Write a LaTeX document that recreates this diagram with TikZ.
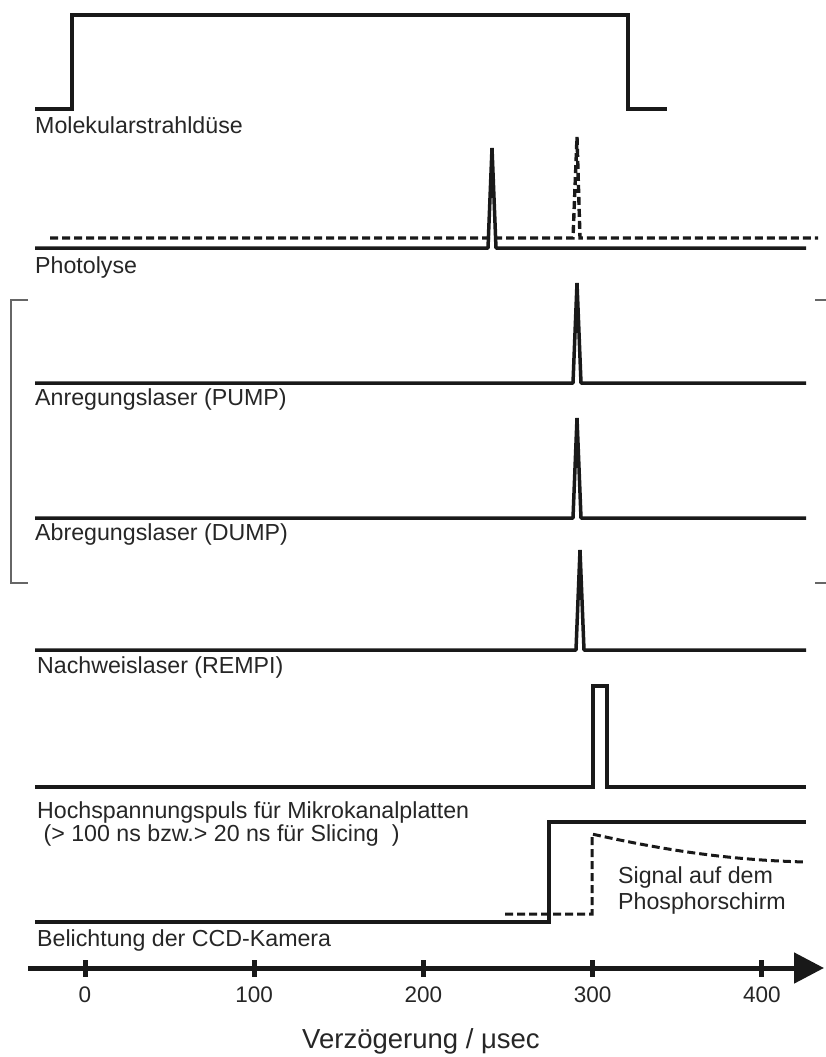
\documentclass[tikz,border=0pt]{standalone}
\usepackage{fontspec}
\setmainfont{Liberation Sans}
\usetikzlibrary{arrows.meta}
\begin{document}
\begin{tikzpicture}[x=1pt,y=-1pt,
  sig/.style={line width=3.5pt,draw=black!90,line join=bevel},
  thick pulse/.style={line width=4.5pt,draw=black!90,line join=miter},
  dsig/.style={line width=3.4pt,draw=black!90,dash pattern=on 8pt off 4pt},
  lbl/.style={anchor=base west,inner sep=0pt,font=\fontsize{23.2}{27}\selectfont,text=black!85},
  tlbl/.style={anchor=base,inner sep=0pt,font=\fontsize{22.5}{26}\selectfont,text=black!85},
  brk/.style={line width=1.6pt,draw=black!60},
  ]
\useasboundingbox (0,0) rectangle (826,1057);
% Molekularstrahl
\draw[thick pulse] (35,109) -- (72,109) -- (72,15) -- (628,15) -- (628,109) -- (667,109);
\node[lbl] (mol) at (35,133) {Molekularstrahldüse};
% Photolyse
\draw[dsig] (50,238) -- (573,238) -- (577,137) -- (580,238) -- (818,238);
\draw[sig] (35,248) -- (488,248) -- (492,148) -- (496,248) -- (806,248);
\node[lbl] (pho) at (35,273) {Photolyse};
% Pump
\draw[sig] (35,383) -- (573,383) -- (577,283) -- (581,383) -- (806,383);
\node[lbl] (pump) at (35,405) {Anregungslaser (PUMP)};
% Dump
\draw[sig] (35,518) -- (573,518) -- (577,418) -- (581,518) -- (806,518);
\node[lbl] (dump) at (35,540) {Abregungslaser (DUMP)};
% REMPI
\draw[sig] (35,650) -- (576,650) -- (580,550) -- (584,650) -- (806,650);
\node[lbl] (rempi) at (37,673) {Nachweislaser (REMPI)};
% Hochspannung
\draw[line width=3.3pt,draw=black!90,line join=miter] (35,787) -- (593,787) -- (593,686) -- (607,686) -- (607,787) -- (806,787);
\node[lbl] (hv1) at (37,818) {Hochspannungspuls für Mikrokanalplatten};
\node[lbl] (hv2) at (37,841) {\ (> 100 ns bzw.> 20 ns für Slicing\ \ )};
% CCD
\draw[line width=3.3pt,draw=black!90,line join=miter] (35,922) -- (549,922) -- (549,822) -- (806,822);
\draw[dsig,line width=3pt] (505,914) -- (592,914) -- (592,834) .. controls (650,847) and (720,860) .. (806,862);
\node[lbl] (sig1) at (618,883) {Signal auf dem};
\node[lbl] (sig2) at (618,909) {Phosphorschirm};
\node[lbl] (ccd) at (37,946) {Belichtung der CCD-Kamera};
% bracket
\draw[brk] (28,300) -- (11,300) -- (11,583) -- (28,583);
\draw[brk,line width=2pt] (815,300) -- (826,300);
\draw[brk,line width=2pt] (815,583) -- (826,583);
% axis
\coordinate (axs) at (28,968);
\coordinate (axe) at (824,968);
\draw[line width=5pt,draw=black!90,-{Triangle[length=30pt,width=30pt]}] (axs) -- (axe);
\foreach \v [count=\i from 0] in {0,100,200,300,400}{
  \draw[line width=5pt,draw=black!90] (85+169.2*\i,960) -- (85+169.2*\i,977);
  \node[tlbl] (t\i) at (85+169.2*\i,1002) {\v};
}
\node[anchor=base,inner sep=0pt,font=\fontsize{27.5}{32}\selectfont,text=black!85] (title) at (421,1048) {Verzögerung / μsec};
\end{tikzpicture}
\end{document}
